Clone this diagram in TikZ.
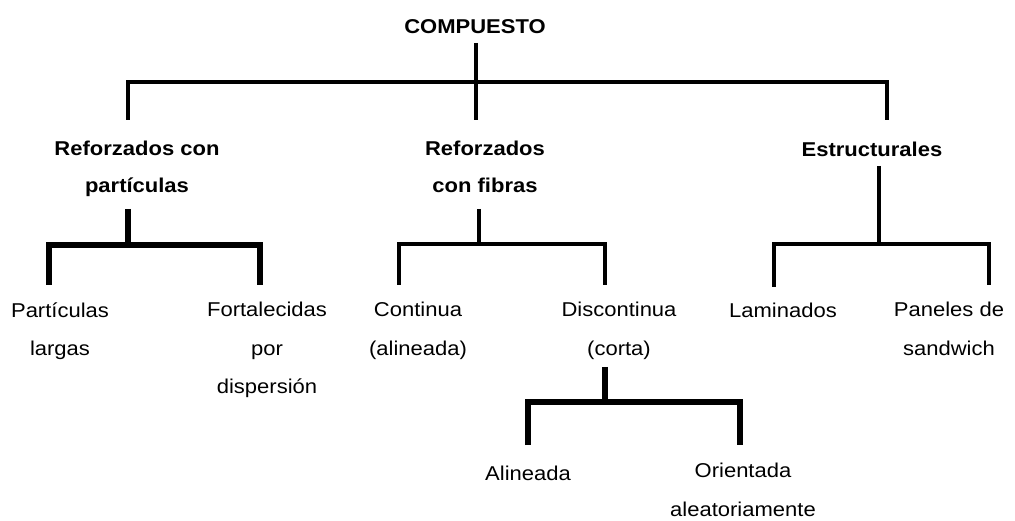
\documentclass[tikz,border=0pt]{standalone}
\usepackage{fontspec}
\newfontfamily\treefont[FakeStretch=1.1]{Liberation Sans}
\usetikzlibrary{positioning}

\tikzset{
  group/.style={font=\treefont\bfseries\fontsize{20}{37}\selectfont, align=center, inner sep=0pt},
  kind/.style={font=\treefont\fontsize{20}{38.5}\selectfont, align=center, inner sep=0pt},
  branch/.style={line width=#1, line join=miter, line cap=butt},
  branch/.default=4pt
}

\begin{document}
\begin{tikzpicture}[x=1pt, y=-1pt]
\useasboundingbox (0,0) rectangle (1015,521);

\node[group] (compuesto) at (475,27) {COMPUESTO};
\node[group] (particulas) at (137,169) {Reforzados con\\part\'iculas};
\node[group] (fibras) at (485,167) {Reforzados\\con fibras};
\node[group] (estructurales) at (872,149) {Estructurales};

\node[kind] (largas) at (60,331) {Part\'iculas\\largas};
\node[kind] (dispersion) at (267,350) {Fortalecidas\\por\\dispersi\'on};
\node[kind] (continua) at (418,331) {Continua\\(alineada)};
\node[kind] (discontinua) at (619,331) {Discontinua\\(corta)};
\node[kind] (laminados) at (783,310) {Laminados};
\node[kind] (paneles) at (949,329) {Paneles de\\sandwich};
\node[kind] (alineada) at (528,473) {Alineada};
\node[kind] (aleatoria) at (743,490) {Orientada\\aleatoriamente};

% ends of the stubs
\coordinate (compuesto-out) at (476,43);
\coordinate (fork0) at (476,82);
\coordinate (particulas-in) at (128,120);
\coordinate (fibras-in) at (476,120);
\coordinate (estructurales-in) at (887,120);

\coordinate (particulas-out) at (128,209);
\coordinate (fork1) at (128,245);
\coordinate (largas-in) at (49,285);
\coordinate (dispersion-in) at (260,285);

\coordinate (fibras-out) at (479,209);
\coordinate (fork2) at (479,244);
\coordinate (continua-in) at (399,285);
\coordinate (discontinua-in) at (605,285);

\coordinate (estructurales-out) at (879,166);
\coordinate (fork3) at (879,244);
\coordinate (laminados-in) at (774,287);
\coordinate (paneles-in) at (989,285);

\coordinate (discontinua-out) at (605,367);
\coordinate (fork4) at (605,402);
\coordinate (alineada-in) at (528,445);
\coordinate (aleatoria-in) at (740,445);

% forks
\draw[branch] (compuesto-out) -- (fibras-in);
\draw[branch] (particulas-in) |- (fork0) -| (estructurales-in);

\draw[branch=6pt] (particulas-out) -- (fork1);
\draw[branch=6pt] (largas-in) |- (fork1) -| (dispersion-in);

\draw[branch=4.5pt] (fibras-out) -- (fork2);
\draw[branch=4.5pt] (continua-in) |- (fork2) -| (discontinua-in);

\draw[branch=3.5pt] (estructurales-out) -- (fork3);
\draw[branch=3.5pt] (laminados-in) |- (fork3) -| (paneles-in);

\draw[branch=5.5pt] (discontinua-out) -- (fork4);
\draw[branch=5.5pt] (alineada-in) |- (fork4) -| (aleatoria-in);
\end{tikzpicture}
\end{document}
